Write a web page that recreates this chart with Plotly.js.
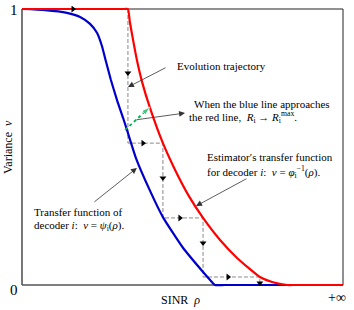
<!DOCTYPE html>
<html>
<head>
<meta charset="utf-8">
<script src="https://cdn.plot.ly/plotly-3.0.1.min.js"></script>
<style>html,body{margin:0;padding:0;background:#fff}#chart{width:354px;height:310px}</style>
</head>
<body>
<div id="chart"></div>
<script>
// Decoder transfer function (blue)
var blueX = [0, 0.072, 0.140, 0.181, 0.212, 0.234, 0.249, 0.262, 0.277, 0.296, 0.315, 0.327, 0.355, 0.399, 0.439, 0.502, 0.564, 0.586, 0.601, 0.632, 1];
var blueY = [1, 0.996, 0.986, 0.971, 0.946, 0.913, 0.866, 0.808, 0.743, 0.670, 0.605, 0.562, 0.460, 0.341, 0.246, 0.134, 0.047, 0.018, 0, 0, 0];
// Estimator transfer function (red)
var redX = [0, 0.320, 0.330, 0.336, 0.346, 0.358, 0.374, 0.399, 0.439, 0.477, 0.520, 0.564, 0.617, 0.670, 0.741, 0.779, 0.826, 0.850, 1];
var redY = [1, 1, 1, 0.953, 0.888, 0.815, 0.736, 0.641, 0.514, 0.417, 0.322, 0.243, 0.163, 0.098, 0.029, 0.011, 0, 0, 0];
// Evolution trajectory (staircase)
var trajX = [0.330, 0.330, 0.439, 0.439, 0.564, 0.564, 0.741, 0.741];
var trajY = [1, 0.514, 0.514, 0.243, 0.243, 0.029, 0.029, 0];
var arrowRightX = [0.159, 0.377, 0.492, 0.642];
var arrowRightY = [1, 0.514, 0.243, 0.029];
var arrowDownX = [0.330, 0.439, 0.564, 0.741];
var arrowDownY = [0.768, 0.388, 0.152, 0.007];
// Green "approach" arrow
var greenX = [0.321, 0.399];
var greenY = [0.562, 0.645];
// Tick labels
var yTickText = ['0', '1'];
var xTickText = ['+∞'];

var serif = '"Times New Roman", Times, "Liberation Serif", "DejaVu Serif", serif';

// plot geometry (pixels)
var L = 19, R = 8, T = 6, B = 22, W = 354, H = 310;
var pw = W - L - R, ph = H - T - B;
function px(x) { return (x - L) / pw; }
function py(y) { return (H - B - y) / ph; }

var traces = [
  {x: trajX, y: trajY, mode: 'lines', line: {color: '#8a8a8a', width: 1, dash: '4px,2px'}},
  {x: blueX, y: blueY, mode: 'lines', line: {color: '#0000cc', width: 2.2, shape: 'spline', smoothing: 0.5}},
  {x: redX, y: redY, mode: 'lines', line: {color: '#ff0000', width: 2.2, shape: 'spline', smoothing: 0.5}},
  {x: arrowRightX, y: arrowRightY, mode: 'markers', marker: {symbol: 'triangle-right', size: 6, color: '#000'}},
  {x: arrowDownX, y: arrowDownY, mode: 'markers', marker: {symbol: 'triangle-down', size: 6, color: '#000'}},
  {x: greenX, y: greenY, mode: 'lines+markers', line: {color: '#00b050', width: 1.8, dash: 'dot'},
   marker: {symbol: ['circle', 'arrow'], size: [0, 9], color: '#00b050', angleref: 'previous'}}
];

function txt(x, y, t, opts) {
  var a = {x: x, y: y, xref: 'x', yref: 'y', text: t, showarrow: false, xanchor: 'left', yanchor: 'middle',
           font: {family: serif, size: 11, color: '#000'}};
  for (var k in opts) a[k] = opts[k];
  return a;
}
function ptr(x, y, ax, ay) {
  return {x: x, y: y, ax: ax, ay: ay, xref: 'x', yref: 'y', axref: 'x', ayref: 'y', text: '', showarrow: true,
          arrowhead: 2, arrowsize: 1.5, arrowwidth: 0.8, arrowcolor: '#333'};
}
function ptxt(x, y, t, size, opts) {
  var a = {x: px(x), y: py(y), xref: 'paper', yref: 'paper', text: t, showarrow: false, xanchor: 'center', yanchor: 'middle',
           font: {family: serif, size: size, color: '#000'}};
  for (var k in opts) a[k] = opts[k];
  return a;
}

var annotations = [
  txt(0.477, 0.793, 'Evolution trajectory'),
  txt(0.530, 0.656, 'When the blue line approaches'),
  txt(0.514, 0.609, 'the red line,  <i>R</i><sub>i</sub> → <i>R</i><sub>i</sub><sup>max</sup>.'),
  txt(0.570, 0.464, 'Estimator′s transfer function'),
  txt(0.570, 0.409, 'for decoder <i>i</i>:  <i>v</i> = <i>φ</i><sub>i</sub><sup>−1</sup>(<i>ρ</i>).'),
  txt(0.031, 0.264, 'Transfer function of'),
  txt(0.031, 0.214, 'decoder <i>i</i>:  <i>v</i> = <i>ψ</i><sub>i</sub>(<i>ρ</i>).'),
  ptr(0.330, 0.717, 0.452, 0.790),
  ptr(0.508, 0.623, 0.352, 0.598),
  ptr(0.542, 0.286, 0.704, 0.388),
  ptr(0.358, 0.424, 0.221, 0.297),
  // tick labels
  ptxt(14, 10, yTickText[1], 15),
  ptxt(14, 290, yTickText[0], 15),
  ptxt(337, 297, xTickText[0], 14),
  // axis titles
  ptxt(8, 147, 'Variance  <i>v</i>', 12, {textangle: -90}),
  ptxt(180, 300, 'SINR  <i>ρ</i>', 12)
];

var layout = {
  width: W, height: H,
  margin: {l: L, r: R, t: T, b: B, pad: 0},
  paper_bgcolor: '#fff', plot_bgcolor: '#fff',
  showlegend: false,
  font: {family: serif},
  xaxis: {range: [-0.0093, 1.0093], showgrid: false, zeroline: false, showticklabels: false, ticks: '',
          showline: false, fixedrange: true},
  yaxis: {range: [-0.0109, 1.0109], showgrid: false, zeroline: false, showticklabels: false, ticks: '',
          showline: false, fixedrange: true},
  shapes: [
    {type: 'line', xref: 'x', yref: 'y', x0: 0, x1: 1, y0: 1, y1: 1, line: {color: '#222', width: 1}, layer: 'below'},
    {type: 'line', xref: 'x', yref: 'y', x0: 1, x1: 1, y0: 0, y1: 1, line: {color: '#222', width: 1}, layer: 'below'},
    {type: 'line', xref: 'x', yref: 'y', x0: 0, x1: 0, y0: 0, y1: 1, line: {color: '#555', width: 1.6}, layer: 'below'},
    {type: 'line', xref: 'x', yref: 'y', x0: 0, x1: 1, y0: 0, y1: 0, line: {color: '#555', width: 1.6}, layer: 'below'}
  ],
  annotations: annotations
};

Plotly.newPlot('chart', traces, layout, {displayModeBar: false, staticPlot: true});
</script>
</body>
</html>
